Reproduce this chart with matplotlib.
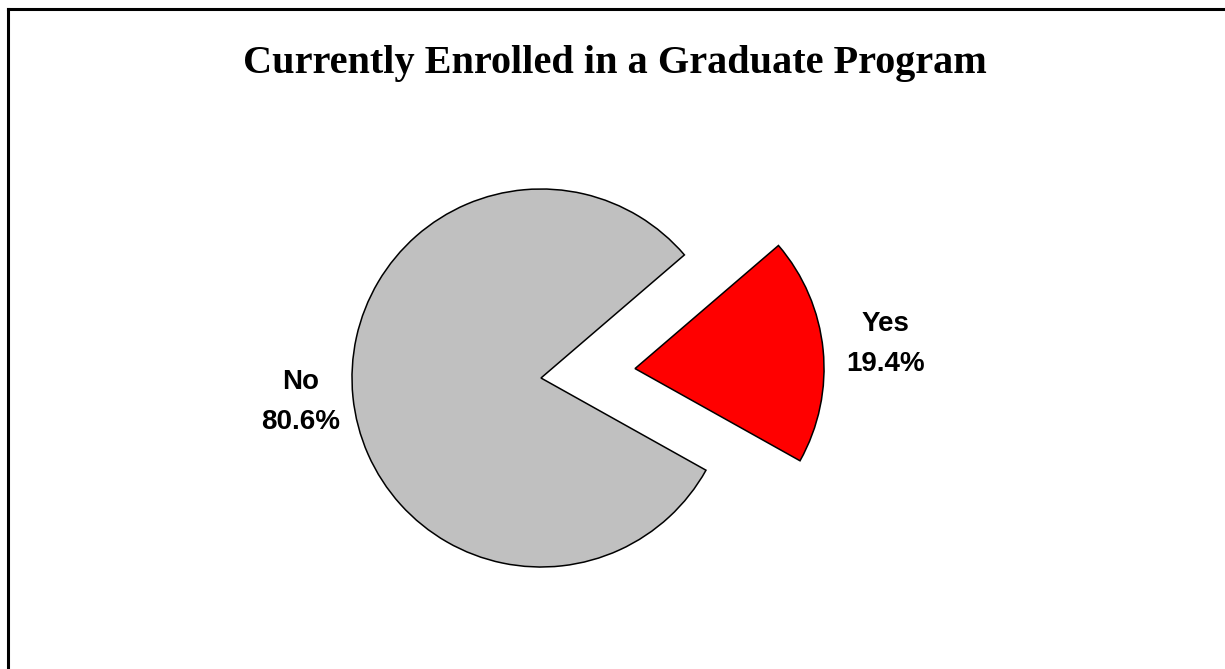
import numpy as np
import matplotlib.pyplot as plt

# data
labels = ['Yes', 'No']
values = [19.4, 80.6]
colors = ['#FF0000', '#C0C0C0']
explode = [0.5, 0.0]
label_dist = [1.33, 1.28]

W, H = 1225, 669
cx, cy, r = 541, 378, 189  # pie centre / radius in pixels

fig = plt.figure(figsize=(W / 100, H / 100), dpi=100)
ax = fig.add_axes([0, 0, 1, 1])
ax.set_aspect('equal', adjustable='datalim')
ax.axis('off')

wedges, texts = ax.pie(values, colors=colors, explode=explode, startangle=-29.2,
                       labels=[f'{l}\n{v:.1f}%' for l, v in zip(labels, values)],
                       labeldistance=1.3, radius=1,
                       wedgeprops=dict(edgecolor='black', linewidth=1.1),
                       textprops=dict(fontsize=20, fontweight='bold',
                                      family='Liberation Sans'))
for w, t, d, e in zip(wedges, texts, label_dist, explode):
    ang = np.deg2rad((w.theta1 + w.theta2) / 2)
    t.set_position(((d + e) * np.cos(ang), (d + e) * np.sin(ang)))
    t.set_horizontalalignment('center')
    t.set_verticalalignment('center')
    t.set_multialignment('center')
    t.set_linespacing(1.7)

ax.set_xlim(-cx / r, (W - cx) / r)
ax.set_ylim(-(H - cy) / r, cy / r)

fig.text(0.502, 1 - 64 / H, 'Currently Enrolled in a Graduate Program',
         ha='center', va='center', fontsize=29, fontweight='bold',
         family='Liberation Serif')

# frame lines (left and top only, as in the cropped original)
fig.add_artist(plt.Line2D([8 / W, 8 / W], [0, 1 - 9 / H], color='black', lw=2.2))
fig.add_artist(plt.Line2D([8 / W, 1], [1 - 9 / H, 1 - 9 / H], color='black', lw=2.2))

fig.savefig('out.png', dpi=100, facecolor='white')
